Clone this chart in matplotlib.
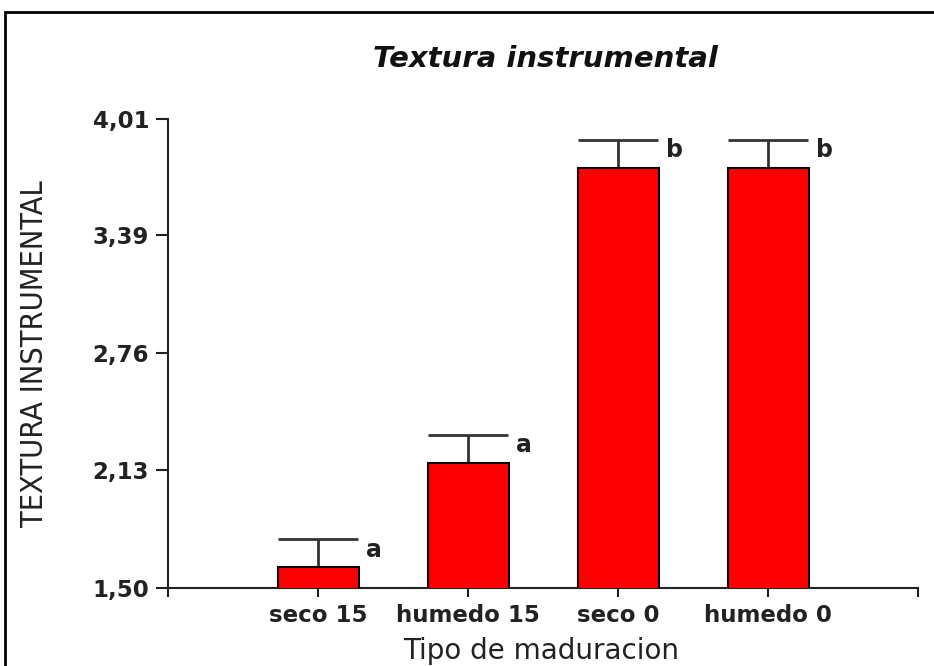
import matplotlib
matplotlib.use("Agg")
import matplotlib.pyplot as plt
from matplotlib.patches import Rectangle

# bar data: mean texture per ripening type, with standard error
categorias = ["seco 15", "humedo 15", "seco 0", "humedo 0"]
medias = [1.61, 2.17, 3.75, 3.75]
errores = [0.15, 0.15, 0.15, 0.15]
letras = ["a", "a", "b", "b"]
yticks = [1.50, 2.13, 2.76, 3.39, 4.01]

plt.rcParams["font.family"] = ["DejaVu Sans"]

fig = plt.figure(figsize=(9.34, 6.66), dpi=100)
ax = fig.add_axes([168 / 934, 78 / 666, 750 / 934, 469 / 666])

x = [1, 2, 3, 4]
ancho = 0.54
ax.bar(x, medias, width=ancho, color="#ff0000", edgecolor="black",
       linewidth=1.5, zorder=3)
ax.errorbar(x, medias, yerr=[[0] * 4, errores], fmt="none", ecolor="#333333",
            elinewidth=2, capsize=29, capthick=2, zorder=2)

for xi, m, e, l in zip(x, medias, errores, letras):
    ax.text(xi + ancho / 2 + 0.05, m + e - 0.055, l, fontsize=17,
            fontweight="bold", ha="left", va="center", color="#222222")

ax.set_xlim(0, 5)
ax.set_ylim(1.50, 4.01)
ax.set_yticks(yticks)
ax.set_yticklabels([f"{v:.2f}".replace(".", ",") for v in yticks],
                   fontweight="bold")
ax.set_xticks([0, 1, 2, 3, 4, 5])
ax.set_xticklabels([""] + categorias + [""], fontweight="bold")

for s in ["top", "right"]:
    ax.spines[s].set_visible(False)
for s in ["left", "bottom"]:
    ax.spines[s].set_linewidth(1.5)
    ax.spines[s].set_color("#222222")

ax.tick_params(axis="y", length=8.5, width=1.5, labelsize=16.5, pad=5,
               colors="#222222")
ax.tick_params(axis="x", length=6.5, width=1.5, labelsize=16.5, pad=5,
               colors="#222222")

fig.text(0.584, (666 - 67) / 666, "Textura instrumental", fontsize=21,
         fontweight="bold", fontstyle="italic", ha="center", va="baseline",
         color="#111111")
fig.text(0.579, (666 - 659) / 666, "Tipo de maduracion", fontsize=20,
         ha="center", va="baseline", color="#222222")
fig.text(35 / 934, 0.4685, "TEXTURA INSTRUMENTAL", fontsize=22, rotation=90,
         ha="center", va="center", color="#222222", fontstretch="condensed")

# frame around the whole figure, running off the right and bottom edges
fig.patches.append(Rectangle((5 / 934, -0.1), 1.2, (666 - 12) / 666 + 0.1,
                             transform=fig.transFigure, fill=False,
                             edgecolor="black", linewidth=2))

fig.savefig("out.png", dpi=100)
